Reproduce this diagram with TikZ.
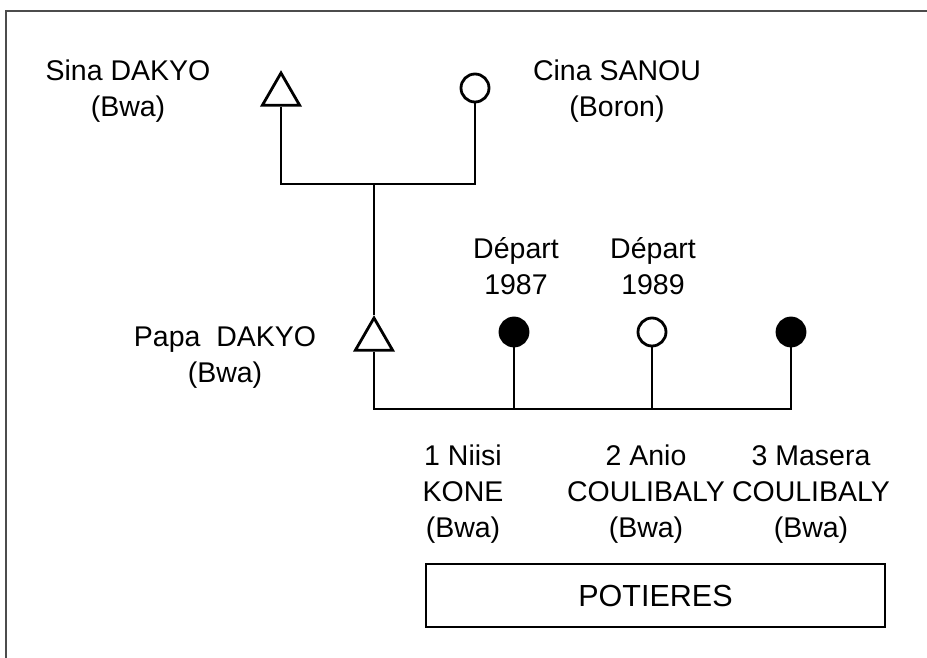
\documentclass[tikz,border=0pt]{standalone}
\usepackage{fontspec}
\setmainfont{Liberation Sans}
\usetikzlibrary{shapes.geometric}

\begin{document}
\begin{tikzpicture}[x=1pt, y=-1pt, line width=2.8pt,
    txt/.style={align=center, inner sep=0pt, font=\fontsize{28.5}{36}\selectfont},
    male/.style={draw, regular polygon, regular polygon sides=3, minimum size=43pt, inner sep=0pt},
    female/.style={draw, circle, minimum size=28pt, inner sep=0pt},
    potter/.style={female, fill=black}]
  \useasboundingbox (0,0) rectangle (927,658);
  \draw[line width=2pt, black!70] (927,11) -- (6,11) -- (6,658);
  \node[male] (sina) at (281,94.5) {};
  \node[female] (cina) at (475,88) {};
  \node[male] (papa) at (374,339.5) {};
  \node[potter] (k1) at (514,332) {};
  \node[female] (k2) at (652,332) {};
  \node[potter] (k3) at (791,332) {};
  \coordinate (u1) at (374,184);
  \coordinate (u2) at (374,409);
  \node[txt] (sinalbl) at (128,91) {Sina DAKYO\\(Bwa)};
  \node[txt] (cinalbl) at (617,91) {Cina SANOU\\(Boron)};
  \node[txt] (papalbl) at (225,357) {Papa\ \ DAKYO\\(Bwa)};
  \node[txt] (dep1) at (516,266) {Départ\\1987};
  \node[txt] (dep2) at (653,266) {Départ\\1989};
  \node[txt] (n1) at (463,494) {1 Niisi\\KONE\\(Bwa)};
  \node[txt] (n2) at (646,494) {2 Anio\\COULIBALY\\(Bwa)};
  \node[txt] (n3) at (811,494) {3 Masera\\COULIBALY\\(Bwa)};
  \node[txt, draw, line width=1.5pt, minimum width=459pt, minimum height=63pt,
    font=\fontsize{30.5}{36}\selectfont] (pot) at (655.5,595.5) {POTIERES};
  \draw (sina.south) -- (sina.south |- u1) -- (cina.south |- u1) -- (cina.south);
  \draw (u1) -- (papa.north);
  \draw (papa.south) -- (u2) -- (k3.south |- u2) -- (k3.south);
  \draw (k1.south) -- (k1.south |- u2);
  \draw (k2.south) -- (k2.south |- u2);
\end{tikzpicture}
\end{document}
